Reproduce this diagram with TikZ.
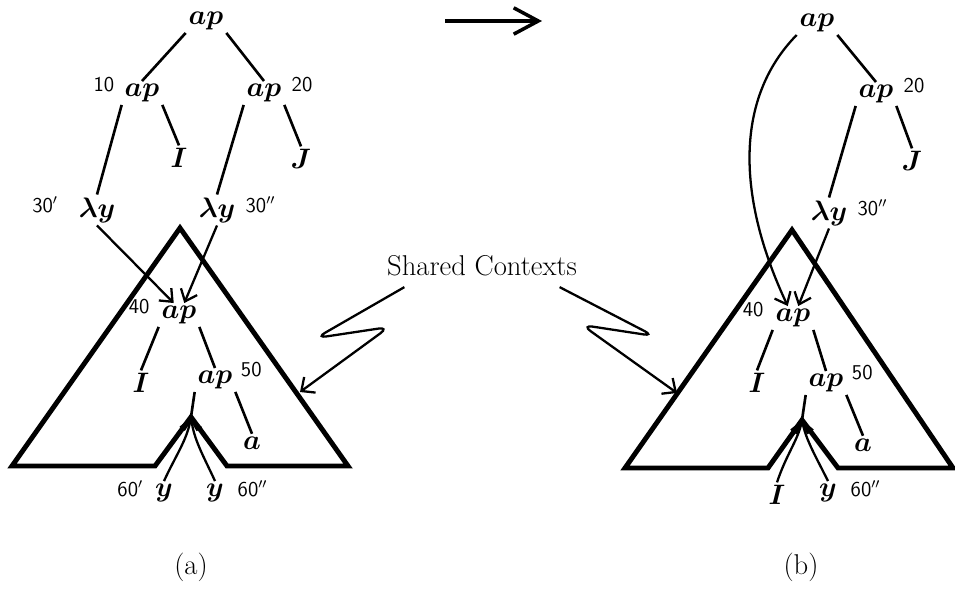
\documentclass[tikz,border=0pt]{standalone}
\usepackage{fix-cm}
\usepackage{tikz}
\usetikzlibrary{
  arrows.meta,
  positioning
}
\tikzset{
  term/.style={inner sep=1.5pt, font=\fontsize{16}{19}\selectfont\boldmath},
  num/.style={inner sep=0pt, font=\sffamily\fontsize{12}{14}\selectfont},
  treeline/.style={line width=1.5pt},
  context/.style={line width=2.8pt, line join=miter},
  binder/.style={-{Straight Barb[length=6pt,width=10pt]}, line width=1.3pt},
  pointer/.style={-{Straight Barb[length=6pt,width=11pt]}, line width=1.3pt, rounded corners=6pt},
  reduce/.style={-{Straight Barb[length=14pt,width=15pt]}, line width=2pt},
  caption/.style={inner sep=2pt, font=\fontsize{16.3}{19}\selectfont}
}

\begin{document}
\begin{tikzpicture}[x=0.02cm, y=-0.02cm]
  \useasboundingbox (0,0) rectangle (955,590);

  \coordinate (go from) at (445,21);
  \coordinate (go to) at (542,21);
  \draw[reduce] (go from) -- (go to);

  % (a)
  \node[term] (la0) at (206,21) {$ap$};
  \node[term] (la10) at (142,93) {$ap$};
  \node[term] (la20) at (264,93) {$ap$};
  \node[term] (lI) at (179,158) {$I$};
  \node[term] (lJ) at (301,159) {$J$};
  \node[term] (lly1) at (97,210) {$\lambda y$};
  \node[term] (lly2) at (217,210) {$\lambda y$};
  \node[term] (la40) at (179,315) {$ap$};
  \node[term] (lIi) at (141,383) {$I$};
  \node[term] (la50) at (215,380) {$ap$};
  \node[term] (lsa) at (252,443) {$a$};
  \node[term] (ly1) at (164,493) {$y$};
  \node[term] (ly2) at (215,493) {$y$};
  \coordinate (lnotch) at (191,417);

  \node[num, base left=4pt of la10, yshift=3pt] (n10) {10};
  \node[num, base right=4pt of la20, yshift=3pt] (n20) {20};
  \node[num, base left=10pt of lly1, yshift=2.5pt] (n30a) {30$'$};
  \node[num, base right=4pt of lly2, yshift=2.5pt] (n30b) {30$''$};
  \node[num, base left=5pt of la40, yshift=3pt] (n40) {40};
  \node[num, base right=3pt of la50, yshift=4pt] (n50) {50};
  \node[num, base left=5pt of ly1] (n60a) {60$'$};
  \node[num, base right=6pt of ly2] (n60b) {60$''$};

  \draw[context] (180,228) -- (12,466) -- (155,466) -- (lnotch) -- (227,466) -- (348,466) -- cycle;

  \draw[treeline] (la0.south west) -- (la10.north);
  \draw[treeline] (la0.south east) -- (la20.north);
  \draw[treeline] (la10.south west) -- (lly1.north);
  \draw[treeline] (la10.south east) -- (lI.north);
  \draw[treeline] (la20.south west) -- (lly2.north);
  \draw[treeline] (la20.south east) -- (lJ.north);
  \draw[treeline] (la40.south west) -- (lIi.north);
  \draw[treeline] (la40.south east) -- (la50.north);
  \draw[treeline] (la50.south east) -- (lsa.north);
  \draw[treeline] (la50.south west) -- (lnotch);

  \draw[binder] (lly1.south) -- ([xshift=-3pt]la40.north);
  \draw[binder] (lly2.south) -- ([xshift=3pt]la40.north);
  \draw[binder] (ly1.north) .. controls (176,455) and (187,440) .. (lnotch);
  \draw[binder] (ly2.north) .. controls (203,455) and (194,440) .. (lnotch);

  % (b)
  \node[term] (ra0) at (817,23) {$ap$};
  \node[term] (ra20) at (876,94) {$ap$};
  \node[term] (rJ) at (912,161) {$J$};
  \node[term] (rly) at (829,213) {$\lambda y$};
  \node[term] (ra40) at (793,318) {$ap$};
  \node[term] (rIi) at (757,383) {$I$};
  \node[term] (ra50) at (826,383) {$ap$};
  \node[term] (rsa) at (863,445) {$a$};
  \node[term] (rIb) at (777,495) {$I$};
  \node[term] (ry) at (828,493) {$y$};
  \coordinate (rnotch) at (802,420);

  \node[num, base right=4pt of ra20, yshift=3pt] (m20) {20};
  \node[num, base right=4pt of rly, yshift=2.5pt] (m30) {30$''$};
  \node[num, base left=5pt of ra40, yshift=3pt] (m40) {40};
  \node[num, base right=3pt of ra50, yshift=4pt] (m50) {50};
  \node[num, base right=6pt of ry] (m60) {60$''$};

  \draw[context] (792,230) -- (625,468) -- (768,468) -- (rnotch) -- (838,468) -- (953,468) -- cycle;

  \draw[treeline] (ra0.south east) -- (ra20.north);
  \draw[treeline] (ra20.south west) -- (rly.north);
  \draw[treeline] (ra20.south east) -- (rJ.north);
  \draw[treeline] (ra40.south west) -- (rIi.north);
  \draw[treeline] (ra40.south east) -- (ra50.north);
  \draw[treeline] (ra50.south east) -- (rsa.north);
  \draw[treeline] (ra50.south west) -- (rnotch);

  \draw[binder] (ra0.south west) .. controls (733,100) and (738,200) .. ([xshift=-3pt]ra40.north);
  \draw[binder] (rly.south) -- ([xshift=3pt]ra40.north);
  \draw[binder] (rIb.north) .. controls (786,455) and (798,440) .. (rnotch);
  \draw[binder] (ry.north) .. controls (815,455) and (806,440) .. (rnotch);

  % shared contexts
  \node[caption] (shared) at (482,266) {Shared Contexts};
  \coordinate (lhit) at (300,392);
  \coordinate (rhit) at (677,393);
  \draw[pointer] ([shift={(12pt,-4pt)}]shared.south west) -- (316,338) -- (389,327) -- (lhit);
  \draw[pointer] ([shift={(-12pt,-4pt)}]shared.south east) -- (654,336) -- (582,325) -- (rhit);

  \node[caption] (capa) at (191,567) {(a)};
  \node[caption] (capb) at (801,567) {(b)};
\end{tikzpicture}
\end{document}
